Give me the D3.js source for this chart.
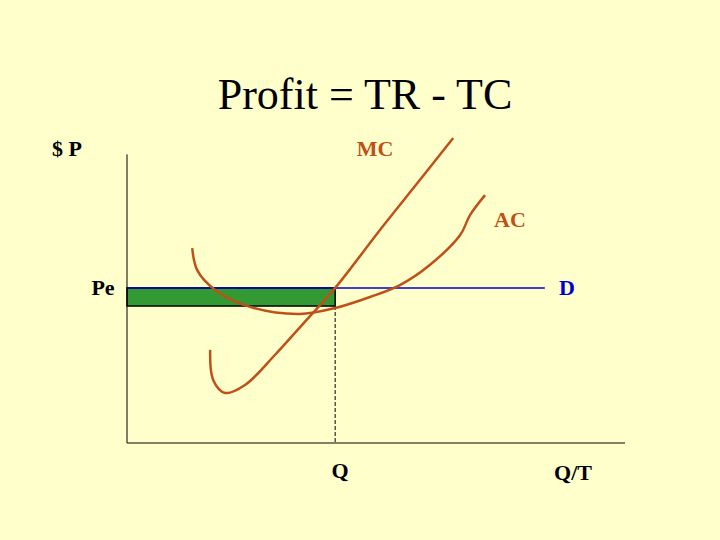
<!DOCTYPE html>
<html><head><meta charset="utf-8">
<script src="https://cdn.jsdelivr.net/npm/d3@7"></script>
<style>body{margin:0;background:#FFFFCC}</style>
</head><body>
<script>
// curve points in chart units (x: quantity, y: price)
const mcX = [16.7, 17.3, 19.7, 23.7, 29.7, 35.7, 41.8, 50.8, 58.8, 65.5];
const mcY = [32.9, 22.3, 17.7, 20.5, 31.1, 42.8, 54.8, 75.3, 92.9, 107.8];
const acX = [13.1, 14.1, 17.7, 24.7, 34.7, 41.8, 48.8, 54.8, 60.8, 66.9, 68.9, 71.9];
const acY = [68.9, 61.1, 54.1, 48.1, 45.6, 47.7, 51.6, 55.8, 62.9, 73.5, 80.6, 87.6];
const priceE = 54.8;
const costAtQ = 48.4;
const qE = 41.8;
const demandEnd = 83.9;

const width = 720, height = 540;
const svg = d3.select('body').append('svg').attr('width', width).attr('height', height);
svg.append('rect').attr('width', width).attr('height', height).attr('fill', '#FFFFCC');

const x = d3.scaleLinear().domain([0, 100]).range([127, 625]);
const y = d3.scaleLinear().domain([0, 100]).range([443, 160]);
const curveColor = '#C0501A';

svg.append('text').attr('x', 365).attr('y', 109).attr('text-anchor', 'middle')
    .style('font-family', 'Liberation Serif').style('font-size', '44px').text('Profit = TR - TC');

// profit rectangle
svg.append('rect')
    .attr('x', x(0)).attr('y', y(priceE))
    .attr('width', x(qE) - x(0)).attr('height', y(costAtQ) - y(priceE))
    .attr('fill', '#339933').attr('stroke', '#000').attr('stroke-width', 1.5);

// demand line
svg.append('line').attr('x1', x(0)).attr('x2', x(demandEnd)).attr('y1', y(priceE)).attr('y2', y(priceE))
    .attr('stroke', '#0000CC').attr('stroke-width', 1.5);

// dashed line at Q
svg.append('line').attr('x1', x(qE)).attr('x2', x(qE)).attr('y1', y(costAtQ)).attr('y2', y(0))
    .attr('stroke', '#000').attr('stroke-dasharray', '4,2');

const line = d3.line().x(d => x(d[0])).y(d => y(d[1])).curve(d3.curveCatmullRom);
svg.append('path').attr('d', line(d3.zip(mcX, mcY))).attr('fill', 'none').attr('stroke', curveColor).attr('stroke-width', 2.5);
svg.append('path').attr('d', line(d3.zip(acX, acY))).attr('fill', 'none').attr('stroke', curveColor).attr('stroke-width', 2.5);

// axes
svg.append('line').attr('x1', x(0)).attr('x2', x(0)).attr('y1', y(102)).attr('y2', y(0)).attr('stroke', '#000');
svg.append('line').attr('x1', x(0)).attr('x2', x(100)).attr('y1', y(0)).attr('y2', y(0)).attr('stroke', '#000');

const labels = [
    ['$ P', 67, 156, '#000'], ['MC', 375, 156, curveColor], ['AC', 510, 227, curveColor],
    ['Pe', 103, 295, '#000'], ['D', 567, 295, '#0000CC'], ['Q', 340, 478, '#000'], ['Q/T', 573, 480, '#000']
];
svg.selectAll('.lbl').data(labels).join('text')
    .attr('x', d => d[1]).attr('y', d => d[2]).attr('text-anchor', 'middle').attr('fill', d => d[3])
    .style('font-family', 'Liberation Serif').style('font-size', '22px').style('font-weight', 'bold')
    .text(d => d[0]);
</script>
</body></html>
